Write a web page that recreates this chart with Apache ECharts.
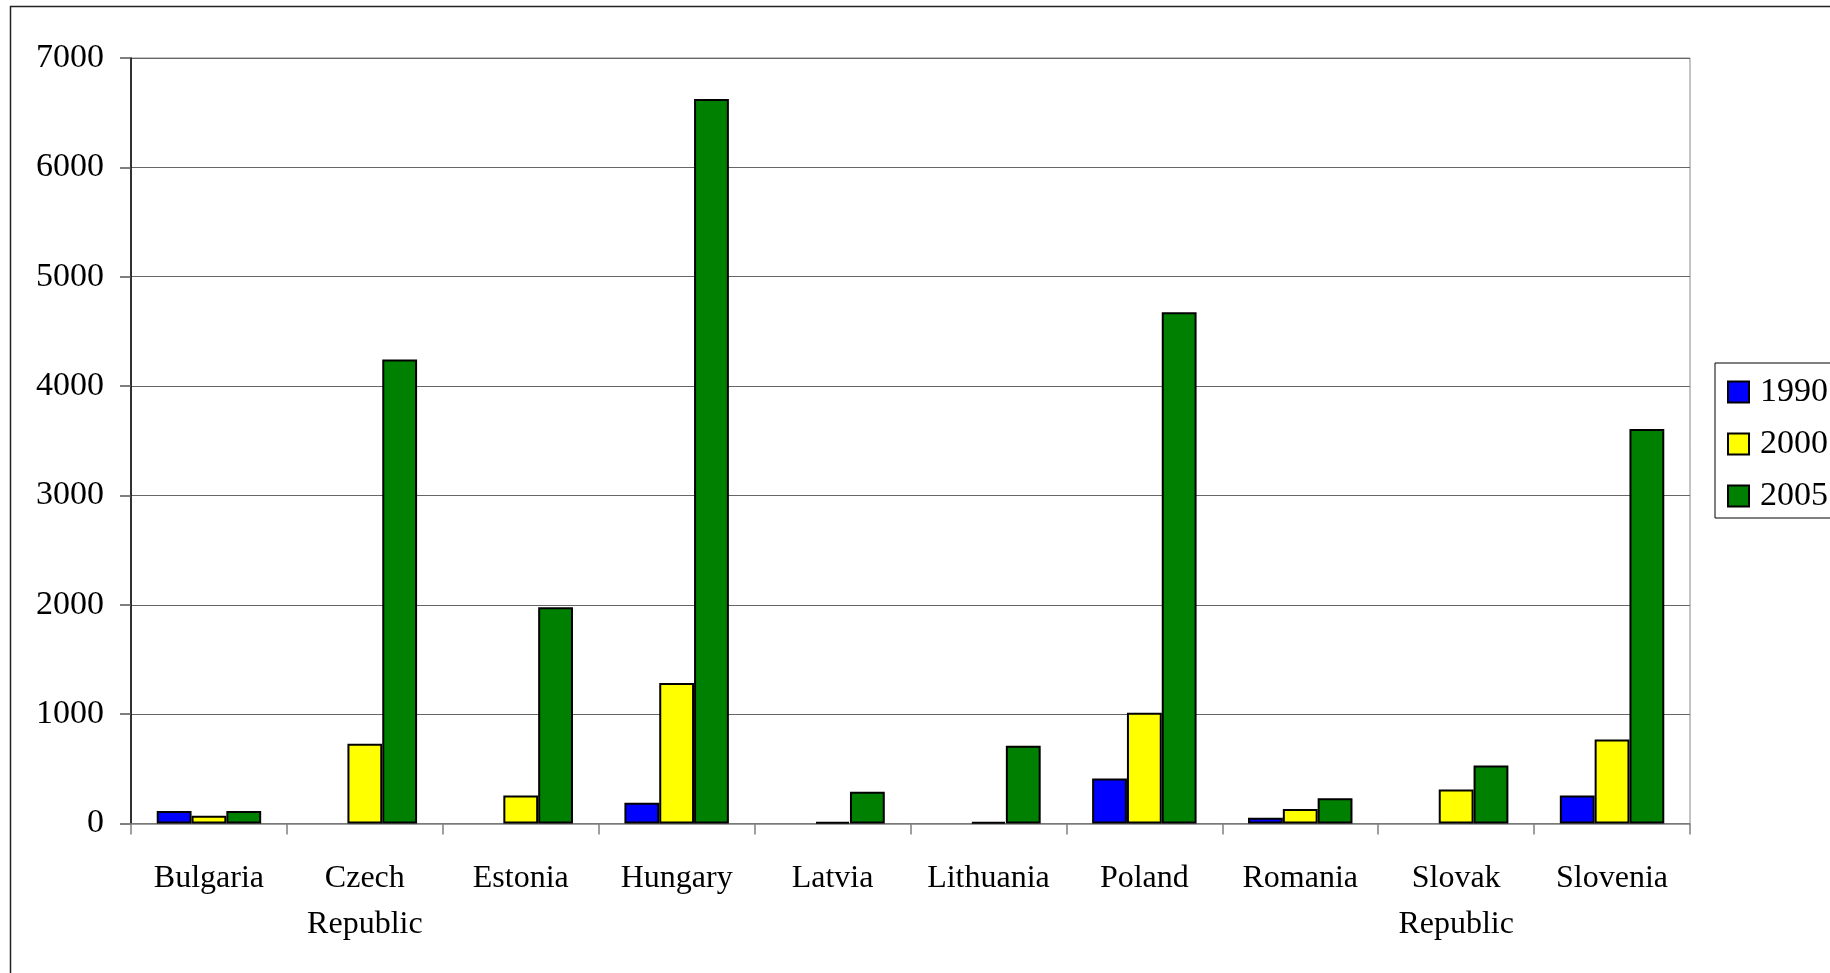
<!DOCTYPE html>
<html>
<head>
<meta charset="utf-8">
<script src="https://cdn.jsdelivr.net/npm/echarts@6/dist/echarts.min.js"></script>
<style>
  html, body { margin: 0; padding: 0; background: #fff; }
  #chart { width: 1830px; height: 973px; }
</style>
</head>
<body>
<div id="chart"></div>
<script>
// Countries on the category axis
const countries = ['Bulgaria', 'Czech Republic', 'Estonia', 'Hungary', 'Latvia',
                   'Lithuania', 'Poland', 'Romania', 'Slovak Republic', 'Slovenia'];
// Series names
const years = ['1990', '2000', '2005'];
// Values per year (null = no bar)
const values1990 = [115, null, null, 190, null, null, 412, 53, null, 255];
const values2000 = [71, 729, 255, 1285, 15, 15, 1012, 133, 310, 768];
const values2005 = [115, 4242, 1978, 6625, 291, 712, 4676, 231, 530, 3607];
// Value axis ticks
const yMin = 0, yMax = 7000, yStep = 1000;

const seriesColors = ['#0000FF', '#FFFF00', '#008000'];
const seriesValues = [values1990, values2000, values2005];
const serif = '"Liberation Serif", "Times New Roman", serif';

const chart = echarts.init(document.getElementById('chart'), null, { renderer: 'canvas' });

chart.setOption({
  backgroundColor: '#fff',
  animation: false,
  textStyle: { fontFamily: serif, color: '#000' },
  graphic: [{
    type: 'rect',
    shape: { x: 10.5, y: 6.5, width: 1900, height: 1000 },
    style: { fill: 'none', stroke: '#222', lineWidth: 1.5 },
    silent: true
  }],
  grid: {
    left: 131, right: 140, top: 58, bottom: 149.5,
    show: true, borderColor: '#888', borderWidth: 1
  },
  legend: {
    orient: 'vertical',
    left: 1715, top: 363,
    itemWidth: 21, itemHeight: 21, itemGap: 18,
    padding: [12, 14, 5, 12],
    borderColor: '#000', borderWidth: 1,
    icon: 'rect',
    data: years,
    textStyle: { fontFamily: serif, fontSize: 34, color: '#000', padding: [0, 0, 0, 6] }
  },
  xAxis: {
    type: 'category',
    data: countries,
    axisLine: { show: true, lineStyle: { color: '#808080', width: 1.5 } },
    axisTick: { show: true, length: 11, lineStyle: { color: '#808080', width: 1.5 } },
    axisLabel: {
      fontFamily: serif, fontSize: 32, color: '#000', lineHeight: 46, margin: 32,
      interval: 0,
      formatter: v => v.replace(' ', '\n')
    },
    splitLine: { show: false }
  },
  yAxis: {
    type: 'value',
    min: yMin, max: yMax, interval: yStep,
    axisLine: { show: true, lineStyle: { color: '#000', width: 1.5 } },
    axisTick: { show: true, length: 11, lineStyle: { color: '#555', width: 1.5 } },
    axisLabel: {
      fontFamily: serif, fontSize: 34, color: '#000', margin: 27,
      formatter: v => String(v)
    },
    splitLine: { show: true, lineStyle: { color: '#666', width: 1.2 } }
  },
  series: years.map((y, i) => ({
    name: y,
    type: 'bar',
    data: seriesValues[i],
    barGap: '0%',
    barCategoryGap: '33%',
    itemStyle: { color: seriesColors[i], borderColor: '#000', borderWidth: 2 }
  }))
});
</script>
</body>
</html>
